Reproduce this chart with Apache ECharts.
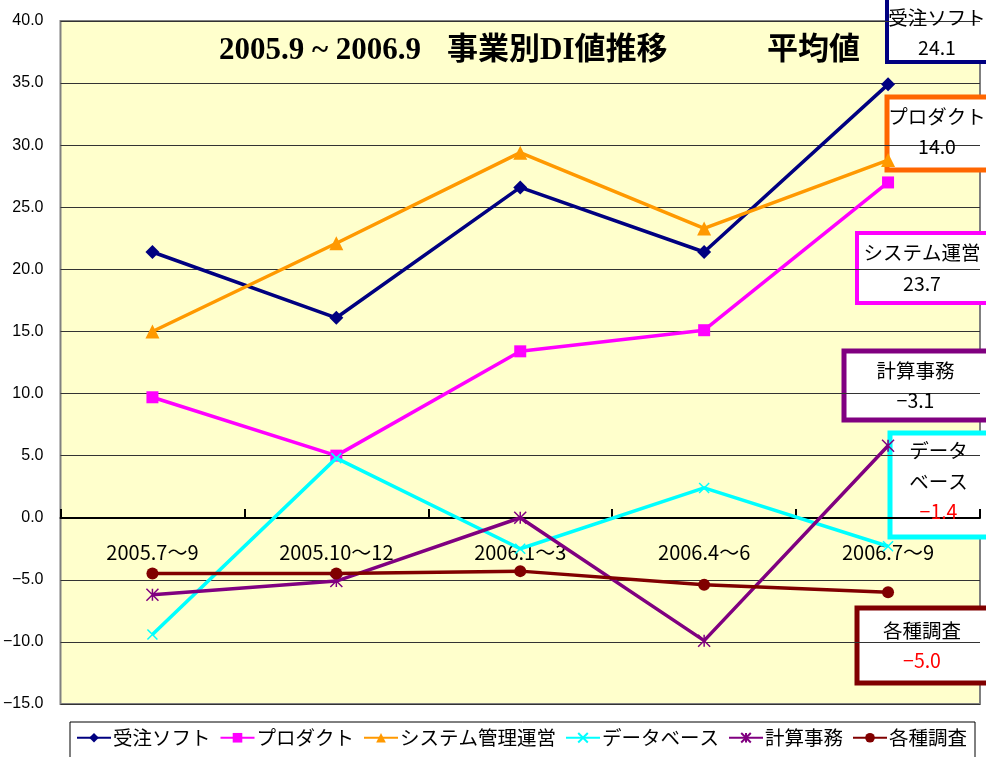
<!DOCTYPE html>
<html>
<head>
<meta charset="utf-8">
<script src="https://cdn.jsdelivr.net/npm/echarts@6/dist/echarts.min.js"></script>
<style>
  html, body { margin: 0; padding: 0; background: #fff; }
  #chart { width: 986px; height: 757px; }
</style>
</head>
<body>
<div id="chart"></div>
<script>
const categories = ['2005.7～9', '2005.10～12', '2006.1～3', '2006.4～6', '2006.7～9']

const seriesNames = ['受注ソフト', 'プロダクト', 'システム管理運営', 'データベース', '計算事務', '各種調査']
const juchuSoft = [21.4, 16.1, 26.6, 21.4, 34.9]
const product = [9.7, 5.0, 13.4, 15.1, 27.0]
const systemUnei = [15.0, 22.1, 29.4, 23.3, 28.8]
const database = [-9.4, 4.8, -2.5, 2.4, -2.3]
const keisanJimu = [-6.2, -5.1, 0.0, -9.9, 5.8]
const kakushuChosa = [-4.5, -4.5, -4.3, -5.4, -6.0]

const yTicks = [-15, 40, 5] // min, max, step

// 平均値 boxes on the right
const avgLabels = [['受注ソフト'], ['プロダクト'], ['システム運営'], ['計算事務'], ['データ', 'ベース'], ['各種調査']]
const avgValues = ['24.1', '14.0', '23.7', '−3.1', '−1.4', '−5.0']
const avgValueColors = ['#000', '#000', '#000', '#000', '#ff0000', '#ff0000']

const colors = ['#000080', '#ff00ff', '#ff9900', '#00ffff', '#800080', '#800000']
const symbols = ['diamond', 'rect', 'triangle', 'x', 'asterisk', 'circle']
const symbolSizes = [14, 12, 14, 10, 12, 12]
const seriesData = [juchuSoft, product, systemUnei, database, keisanJimu, kakushuChosa]

const FONT = '"Noto Sans CJK JP", "Liberation Sans", sans-serif'
const TITLE_FONT = '"Liberation Serif", "Noto Sans CJK JP", serif'

const chart = echarts.init(document.getElementById('chart'))

// custom symbols for x / asterisk markers
const symbolPaths = {
  x: 'path://M0,0 L10,10 M10,0 L0,10',
  asterisk: 'path://M0,0 L10,10 M10,0 L0,10 M5,0 L5,10'
}

const series = seriesNames.map((name, i) => ({
  name,
  type: 'line',
  data: seriesData[i],
  symbol: symbolPaths[symbols[i]] || symbols[i],
  symbolSize: symbolSizes[i],
  showAllSymbol: true,
  itemStyle: {
    color: colors[i],
    borderColor: colors[i],
    borderWidth: (symbols[i] === 'x' || symbols[i] === 'asterisk') ? 1.5 : 0
  },
  lineStyle: { color: colors[i], width: 3.5 },
  emphasis: { disabled: true },
  z: 3 + i
}))

// annotation boxes
const boxes = [
  { x: 887, y: -3, w: 104, h: 65, bw: 4, dy: 3 },
  { x: 887, y: 97, w: 104, h: 73, bw: 5, dy: -2 },
  { x: 857, y: 233, w: 134, h: 70, bw: 4, dy: 0 },
  { x: 844, y: 351, w: 147, h: 69, bw: 5, dy: 0 },
  { x: 890, y: 433, w: 101, h: 104, bw: 5, dy: -4 },
  { x: 857, y: 608, w: 134, h: 75, bw: 5, dy: 0 }
]
const boxBorder = ['#000080', '#ff6600', '#ff00ff', '#800080', '#00ffff', '#800000']

const graphic = boxes.map((b, i) => {
  const lines = avgLabels[i].map(t => '{t|' + t + '}')
  lines.push('{v|' + avgValues[i] + '}')
  return {
    type: 'group',
    z: 100,
    children: [
      {
        type: 'rect',
        shape: { x: b.x, y: b.y, width: b.w, height: b.h },
        style: { fill: '#fff', stroke: boxBorder[i], lineWidth: b.bw }
      },
      {
        type: 'text',
        z: 101,
        x: b.x + b.w / 2 - 2,
        y: b.y + b.h / 2 + b.dy,
        style: {
          text: lines.join('\n'),
          align: 'center',
          verticalAlign: 'middle',
          rich: {
            t: { fontFamily: FONT, fontSize: 19.5, fill: '#000', lineHeight: 31 },
            v: { fontFamily: FONT, fontSize: 19.5, fill: avgValueColors[i], lineHeight: 30 }
          }
        }
      }
    ]
  }
})

const titleParts = [
  { text: '2005.9 ~ 2006.9', left: 219 },
  { text: '事業別DI値推移', left: 447 },
  { text: '平均値', left: 767 }
]
titleParts.forEach(p => {
  graphic.push({
    type: 'text',
    left: p.left,
    top: 35,
    z: 50,
    style: {
      text: p.text,
      fontFamily: TITLE_FONT,
      fontWeight: 'bold',
      fontSize: 31,
      fill: '#000'
    }
  })
})

const option = {
  backgroundColor: '#fff',
  animation: false,
  color: colors,
  grid: {
    left: 59, top: 21, right: 6, bottom: 53,
    show: true,
    backgroundColor: '#ffffcc',
    borderColor: '#808080',
    borderWidth: 2
  },
  legend: {
    data: seriesNames,
    left: 70,
    top: 722,
    width: 915,
    padding: [6, 8, 12, 6],
    itemGap: 9,
    itemWidth: 34,
    itemHeight: 12,
    borderColor: '#000',
    borderWidth: 1,
    textStyle: { fontFamily: FONT, fontSize: 19.5, color: '#000', padding: [0, 0, 0, -3] }
  },
  xAxis: {
    type: 'category',
    data: categories,
    boundaryGap: true,
    position: 'bottom',
    offset: -186,
    axisLine: { onZero: false, lineStyle: { color: '#000', width: 2 } },
    axisTick: { show: true, inside: true, length: 9, lineStyle: { color: '#000', width: 2 } },
    axisLabel: { margin: 24, fontFamily: FONT, fontSize: 20, color: '#000' },
    splitLine: { show: false }
  },
  yAxis: {
    type: 'value',
    min: yTicks[0],
    max: yTicks[1],
    interval: yTicks[2],
    axisLine: { show: false },
    axisTick: { show: false },
    axisLabel: {
      margin: 17,
      fontFamily: '"Liberation Sans", Arial, sans-serif',
      fontSize: 16,
      color: '#000',
      formatter: v => (v < 0 ? '−' : '') + Math.abs(v).toFixed(1)
    },
    splitLine: { lineStyle: { color: '#333', width: 1.2 } }
  },
  graphic,
  series
}

chart.setOption(option)
</script>
</body>
</html>
